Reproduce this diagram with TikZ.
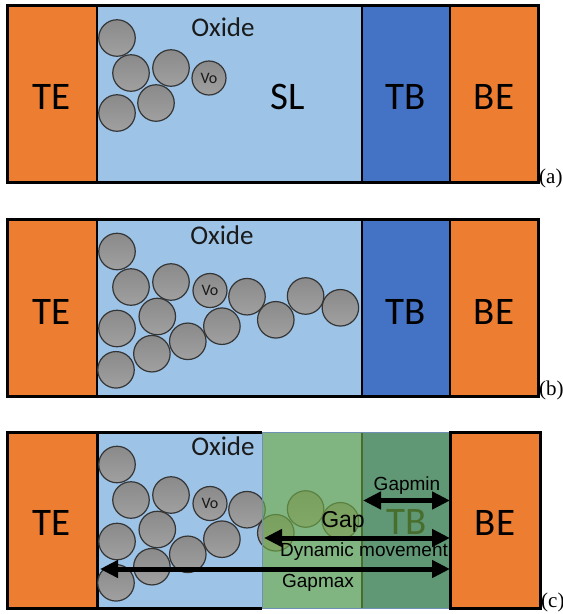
\documentclass[tikz,border=0pt]{standalone}
\usepackage{fontspec}
\setmainfont{Carlito}
\newfontfamily\arialfont{Liberation Sans}
\newfontfamily\timesfont{Liberation Serif}
\usetikzlibrary{arrows.meta}

\definecolor{electrode}{HTML}{ED7D31}
\definecolor{oxidefill}{HTML}{9DC3E6}
\definecolor{barrier}{HTML}{4472C4}
\definecolor{gapgreen}{HTML}{70AD47}
\definecolor{ballline}{HTML}{353535}
\definecolor{balltop}{HTML}{8A8A8A}
\definecolor{ballbot}{HTML}{A0A0A0}
\definecolor{rim}{HTML}{6F90B4}
\definecolor{labelink}{HTML}{1A1A1A}

\tikzset{
  frame/.style={draw=black, line width=3pt},
  divider/.style={draw=black, line width=2.6pt},
  ball/.style={circle, minimum size=36.5pt, inner sep=0pt, draw=ballline,
    line width=1.2pt, top color=balltop, bottom color=ballbot},
  vball/.style={ball, minimum size=34pt, font=\fontsize{16}{17}\selectfont, text=labelink},
  layername/.style={font=\fontsize{39}{41}\selectfont, text=black},
  oxidename/.style={font=\fontsize{27}{29}\selectfont, text=labelink},
  panelname/.style={anchor=west, inner sep=0pt, font=\timesfont\fontsize{21}{23}\selectfont},
  gaptext/.style={inner sep=0pt, font=\arialfont\fontsize{19}{21}\selectfont},
  gaparrow/.style={line width=5pt,
    {Triangle[length=18pt,width=17pt]}-{Triangle[length=18pt,width=17pt]}},
}

% layer stack of one device (panel top at y = 0)
\newcommand\stackfills[1]{%
  \fill[electrode] (7,0) rectangle (97,177);
  \fill[oxidefill] (97,0) rectangle (362,177);
  \fill[barrier] (362,0) rectangle (450,177);
  \fill[electrode] (450,0) rectangle (#1,177);
}

\begin{document}
\begin{tikzpicture}[x=1pt,y=-1pt]
\useasboundingbox (0,0) rectangle (563,614);
\fill[white] (0,0) rectangle (563,614);

% ---------------- (a) initial state ----------------
\begin{scope}[shift={(0,5)}]
  \stackfills{538}
  \draw[frame] (7,0) rectangle (538,177);
  \draw[divider] (97,0) -- (97,177) (362,0) -- (362,177) (450,0) -- (450,177);
  \node[ball] (a1) at (117,33) {};
  \node[ball] (a2) at (131,68) {};
  \node[ball] (a3) at (171,63) {};
  \node[vball] (avo) at (209,73) {Vo};
  \node[ball] (a10) at (156,98) {};
  \node[ball] (a11) at (117,108) {};
  \node[oxidename] (aox) at (223,22) {Oxide};
  \node[layername] (ate) at (52,92) {TE};
  \node[layername] (asl) at (288,92) {SL};
  \node[layername] (atb) at (406,92) {TB};
  \node[layername] (abe) at (494,92) {BE};
\end{scope}
\node[panelname] (la) at (539,178) {(a)};

% ---------------- (b) filament growth ----------------
\begin{scope}[shift={(0,219)}]
  \stackfills{538}
  \draw[frame] (7,0) rectangle (538,177);
  \draw[divider] (97,0) -- (97,177) (362,0) -- (362,177) (450,0) -- (450,177);
  \node[ball] (b1) at (117,32.5) {};
  \node[ball] (b2) at (131,68) {};
  \node[ball] (b3) at (171,63) {};
  \node[vball] (bvo) at (210,71.5) {Vo};
  \node[ball] (b5) at (247,77.7) {};
  \node[ball] (b6) at (305.6,77) {};
  \node[ball] (b7) at (340.4,88.8) {};
  \node[ball] (b8) at (275.8,100.8) {};
  \node[ball] (b9) at (221.9,107.2) {};
  \node[ball] (b10) at (157.3,97.5) {};
  \node[ball] (b11) at (117,109.5) {};
  \node[ball] (b12) at (187.8,122.3) {};
  \node[ball] (b13) at (151.9,134.7) {};
  \node[ball] (b14) at (116,150.8) {};
  \node[oxidename] (box) at (222,16) {Oxide};
  \node[layername] (bte) at (52,93) {TE};
  \node[layername] (btb) at (406,93) {TB};
  \node[layername] (bbe) at (494,93) {BE};
\end{scope}
\node[panelname] (lb) at (539,390) {(b)};

% ---------------- (c) gap and dynamic movement ----------------
\begin{scope}[shift={(0,432)}]
  \stackfills{540}
  \draw[frame] (7,0) rectangle (97,176);
  \draw[frame] (97,0) -- (262,0) (97,176) -- (262,176);
  \draw[divider] (362,0) -- (362,176);
  \node[ball] (c1) at (117,32.5) {};
  \node[ball] (c2) at (131,68) {};
  \node[ball] (c3) at (171,63) {};
  \node[vball] (cvo) at (210,71.5) {Vo};
  \node[ball] (c5) at (247,77.7) {};
  \node[ball] (c6) at (305.6,77) {};
  \node[ball] (c7) at (340.4,88.8) {};
  \node[ball] (c8) at (275.8,100.8) {};
  \node[ball] (c9) at (221.9,107.2) {};
  \node[ball] (c10) at (157.3,97.5) {};
  \node[ball] (c11) at (117,109.5) {};
  \node[ball] (c12) at (187.8,122.3) {};
  \node[ball] (c13) at (151.9,134.7) {};
  \node[ball] (c14) at (116,150.8) {};
  \node[layername] (ctb) at (407,90) {TB};
  % translucent gap region over the switching layer and barrier
  \fill[gapgreen, opacity=0.64] (262,0) rectangle (450,176);
  \draw[rim, line width=0.9pt] (262,0) rectangle (450,176);
  \draw[frame] (450,0) rectangle (540,176);
  \node[oxidename] (cox) at (223,14) {Oxide};
  \node[layername] (cte) at (52,91) {TE};
  \node[layername] (cbe) at (495,91) {BE};
  % dimension arrows
  \coordinate (minL) at (363,68.5);
  \coordinate (minR) at (450,68.5);
  \coordinate (gapL) at (264,106);
  \coordinate (gapR) at (450,106);
  \coordinate (maxL) at (100,137);
  \coordinate (maxR) at (450,137);
  \draw[gaparrow] (minL) -- (minR);
  \draw[gaparrow] (gapL) -- (gapR);
  \draw[gaparrow] (maxL) -- (maxR);
  \node[gaptext] (tmin) at (407,54) {Gapmin};
  \node[gaptext, font=\arialfont\fontsize{23}{25}\selectfont] (tgap) at (343,90) {Gap};
  \node[gaptext] (tdyn) at (364,120) {Dynamic movement};
  \node[gaptext] (tmax) at (318,151) {Gapmax};
\end{scope}
\node[panelname] (lc) at (541,602) {(c)};
\end{tikzpicture}
\end{document}
